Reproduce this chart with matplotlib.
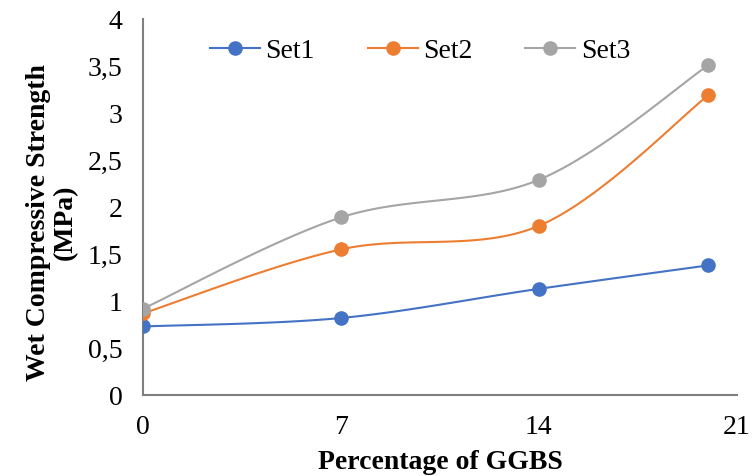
import matplotlib.pyplot as plt
import numpy as np

plt.rcParams['font.family'] = ['Liberation Serif', 'DejaVu Serif']

# data
ggbs = [0, 7, 14, 20]
set1 = [0.73, 0.82, 1.13, 1.38]
set2 = [0.87, 1.55, 1.80, 3.19]
set3 = [0.92, 1.89, 2.29, 3.51]
xticks = [0, 7, 14, 21]
yticks = [0, 0.5, 1, 1.5, 2, 2.5, 3, 3.5, 4]


def smooth(x, y, n=40):
    # excel-like smoothed line (bezier through points, catmull-rom controls)
    p = np.column_stack([x, y]).astype(float)
    pts = np.vstack([p[0], p, p[-1]])
    out = []
    for i in range(1, len(pts) - 2):
        p0, p1, p2, p3 = pts[i - 1], pts[i], pts[i + 1], pts[i + 2]
        c1 = p1 + (p2 - p0) / 6
        c2 = p2 - (p3 - p1) / 6
        t = np.linspace(0, 1, n)[:, None]
        seg = ((1 - t) ** 3) * p1 + 3 * ((1 - t) ** 2) * t * c1 + 3 * (1 - t) * t ** 2 * c2 + t ** 3 * p2
        out.append(seg)
    out = np.vstack(out)
    return out[:, 0], out[:, 1]


fig = plt.figure(figsize=(7.54, 4.76), dpi=100)
ax = fig.add_axes([0.19, 0.17, 0.787, 0.79])

colors = ['#4472C4', '#ED7D31', '#A5A5A5']
for ys, c, lab in zip([set1, set2, set3], colors, ['Set1', 'Set2', 'Set3']):
    sx, sy = smooth(ggbs, ys)
    ax.plot(sx, sy, color=c, lw=1.5, zorder=2)
    ax.plot(ggbs, ys, 'o', color=c, ms=9.5, zorder=3)
    ax.plot([], [], '-o', color=c, lw=1.5, ms=9.5, label=lab)

ax.set_xlim(0, 21)
ax.set_ylim(0, 4)
ax.set_xticks(xticks)
ax.set_yticks(yticks)
ax.set_yticklabels([('%g' % v).replace('.', ',') for v in yticks])
ax.tick_params(length=0, labelsize=20)
ax.tick_params(axis='y', pad=15)
ax.tick_params(axis='x', pad=14)

for s in ['top', 'right']:
    ax.spines[s].set_visible(False)
for s in ['left', 'bottom']:
    ax.spines[s].set_color('#7f7f7f')
    ax.spines[s].set_linewidth(1.5)

ax.set_xlabel('Percentage of GGBS', fontsize=20, fontweight='bold')
ax.xaxis.set_label_coords(0.5, -0.145)
ax.set_ylabel('Wet Compressive Strength\n(MPa)', fontsize=20, fontweight='bold', linespacing=1.1)
ax.yaxis.set_label_coords(-0.11, 0.46)

ax.legend(loc='center left', bbox_to_anchor=(0.07, 0.915), ncol=3, frameon=False,
          fontsize=20, handlelength=1.8, columnspacing=1.9, handletextpad=0.2)

fig.savefig('out.png', dpi=100)
